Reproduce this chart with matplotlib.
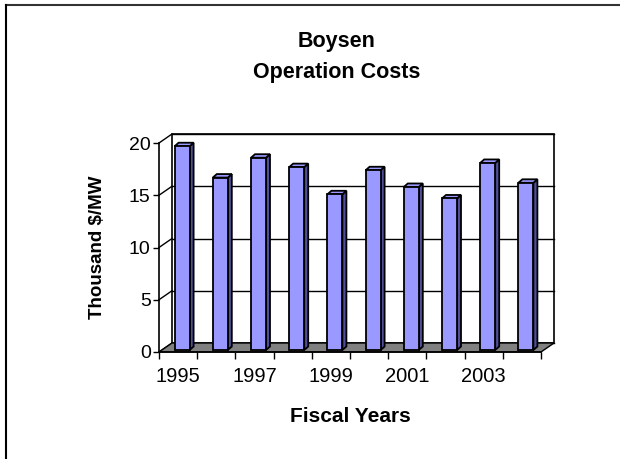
import numpy as np
import matplotlib
matplotlib.use("Agg")
import matplotlib.pyplot as plt
from matplotlib.patches import Polygon
from matplotlib.lines import Line2D

# data
years = ["1995", "1996", "1997", "1998", "1999", "2000", "2001", "2002", "2003", "2004"]
costs = [19.5, 16.5, 18.4, 17.5, 14.9, 17.2, 15.6, 14.5, 17.9, 16.0]
y_ticks = [0, 5, 10, 15, 20]

plt.rcParams["font.family"] = ["Liberation Sans", "DejaVu Sans"]

W, H = 620, 459
fig = plt.figure(figsize=(W / 100, H / 100), dpi=100)
fig.patch.set_facecolor("white")

# front plane of the 3d box, in pixels
x0, x1 = 159, 541
y_bot, y_top = 352, 143
ax = fig.add_axes([x0 / W, (H - y_bot) / H, (x1 - x0) / W, (y_bot - y_top) / H])
ax.set_xlim(-0.5, len(years) - 0.5)
ax.set_ylim(0, 20)
ax.patch.set_visible(False)

# pixel -> data helpers for depth
px_x = (len(years)) / (x1 - x0)
px_y = 20 / (y_bot - y_top)
ddx, ddy = 13 * px_x, 9 * px_y          # wall depth
bdx, bdy = 4 * px_x, 2 * px_y           # bar front offset
sdx, sdy = 4 * px_x, 3.5 * px_y         # bar depth
bw = 15 * px_x                          # bar face width

xl, xr = -0.5, len(years) - 0.5

# back wall
ax.add_patch(Polygon([(xl + ddx, ddy), (xr + ddx, ddy), (xr + ddx, 20 + ddy), (xl + ddx, 20 + ddy)],
                     closed=True, facecolor="white", edgecolor="black", lw=1.2, clip_on=False, zorder=1))
# grid on side wall and back wall
for v in y_ticks:
    ax.add_line(Line2D([xl, xl + ddx], [v, v + ddy], color="black", lw=1, clip_on=False, zorder=2))
    ax.add_line(Line2D([xl + ddx, xr + ddx], [v + ddy, v + ddy], color="black", lw=1, clip_on=False, zorder=2))

# floor
ax.add_patch(Polygon([(xl, 0), (xr, 0), (xr + ddx, ddy), (xl + ddx, ddy)],
                     closed=True, facecolor="#808080", edgecolor="black", lw=1, clip_on=False, zorder=3))

# bars
for i, v in enumerate(costs):
    left = i - bw / 2 + bdx
    right = left + bw
    b = bdy
    t = bdy + v
    side = [(right, b), (right + sdx, b + sdy), (right + sdx, t + sdy), (right, t)]
    top = [(left, t), (right, t), (right + sdx, t + sdy), (left + sdx, t + sdy)]
    front = [(left, b), (right, b), (right, t), (left, t)]
    ax.add_patch(Polygon(side, closed=True, facecolor="#50509a", edgecolor="black", lw=1.3, clip_on=False, zorder=4))
    ax.add_patch(Polygon(top, closed=True, facecolor="#9999ff", edgecolor="black", lw=1.3, clip_on=False, zorder=4))
    ax.add_patch(Polygon(front, closed=True, facecolor="#9999ff", edgecolor="black", lw=1.3, clip_on=False, zorder=5))

# axes, ticks
for s in ["top", "right"]:
    ax.spines[s].set_visible(False)
ax.spines["left"].set_linewidth(1.2)
ax.spines["bottom"].set_linewidth(1.2)
ax.spines["left"].set_zorder(6)
ax.spines["bottom"].set_zorder(6)

ax.set_yticks(y_ticks)
ax.tick_params(axis="y", direction="out", length=4, width=1, labelsize=14, pad=2)
ax.set_xticks(np.arange(xl, xr + 0.01, 1))
ax.set_xticklabels([])
ax.tick_params(axis="x", which="major", direction="out", length=5, width=1)
ax.set_xticks(np.arange(len(years)), minor=True)
ax.set_xticklabels([y if i % 2 == 0 else "" for i, y in enumerate(years)], minor=True)
ax.tick_params(axis="x", which="minor", length=0, labelsize=14.5, pad=11)

# titles
fig.text(337 / W, 1 - 57 / H, "Boysen\nOperation Costs", ha="center", va="center",
         fontsize=15.5, fontweight="bold", linespacing=1.6)
fig.text(97 / W, 1 - 247 / H, "Thousand $/MW", ha="center", va="center", rotation=90,
         fontsize=13.5, fontweight="bold")
fig.text(350 / W, 1 - 416 / H, "Fiscal Years", ha="center", va="center",
         fontsize=15, fontweight="bold")

# outer frame (only top and left show)
fig.add_artist(Line2D([6 / W, 1], [1 - 4.5 / H, 1 - 4.5 / H], color="#333333", lw=1.5, transform=fig.transFigure))
fig.add_artist(Line2D([6 / W, 6 / W], [0, 1 - 4.5 / H], color="black", lw=1.5, transform=fig.transFigure))

fig.savefig("out.png", dpi=100)
